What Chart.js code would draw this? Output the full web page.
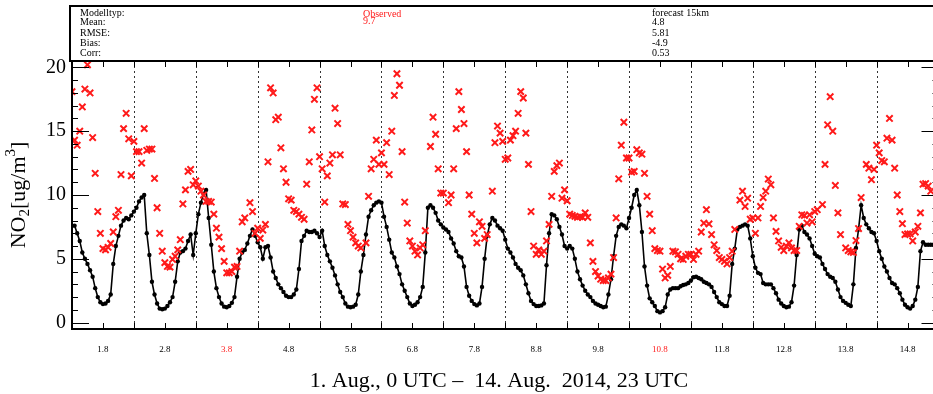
<!DOCTYPE html>
<html>
<head>
<meta charset="utf-8">
<script src="https://cdn.jsdelivr.net/npm/chart.js@4"></script>
<style>
    html, body { margin: 0; padding: 0; background: #fff; overflow: hidden; }
    #wrap { width: 933px; height: 394px; overflow: hidden; }
    canvas { display: block; }
</style>
</head>
<body>
<div id="wrap"><canvas id="myChart" width="945" height="394"></canvas></div>
<script>
// hourly values, 1. Aug 0 UTC .. 14. Aug 23 UTC (one row per day)
const model = [
    7.6, 7.6, 7.0, 6.4, 5.5, 5.0, 4.6, 4.1, 3.6, 2.7, 2.0, 1.6, 1.45, 1.5, 1.7, 2.2, 4.6, 6.0, 6.8, 7.6, 8.0, 8.2, 8.1, 8.4,
    8.7, 9.0, 9.5, 9.8, 10.0, 7.0, 5.3, 3.2, 2.2, 1.5, 1.1, 1.05, 1.1, 1.3, 1.6, 2.0, 3.2, 4.8, 5.5, 5.6, 5.8, 6.4, 6.9, 5.3,
    7.0, 8.5, 9.4, 10.1, 10.4, 8.2, 6.1, 4.0, 2.7, 2.0, 1.5, 1.25, 1.2, 1.3, 1.55, 2.0, 3.6, 5.0, 5.5, 5.7, 6.2, 6.8, 7.3, 6.8,
    6.3, 5.9, 5.0, 5.9, 6.0, 5.1, 4.0, 3.5, 3.0, 2.7, 2.4, 2.1, 2.0, 2.0, 2.2, 2.6, 4.2, 6.4, 6.8, 7.2, 7.1, 7.1, 7.2, 7.0,
    6.7, 7.2, 6.0, 5.3, 4.8, 4.3, 3.7, 3.0, 2.4, 2.0, 1.5, 1.25, 1.2, 1.25, 1.4, 2.2, 4.0, 5.3, 6.9, 8.3, 8.8, 9.2, 9.4, 9.5,
    9.4, 8.3, 7.5, 6.5, 5.5, 5.1, 4.4, 3.8, 3.0, 2.5, 2.0, 1.5, 1.3, 1.4, 1.6, 2.0, 2.8, 5.5, 9.0, 9.2, 9.0, 8.6, 8.0, 7.7,
    7.45, 7.3, 7.1, 6.6, 6.2, 5.6, 5.2, 5.1, 4.4, 2.8, 2.1, 1.7, 1.45, 1.35, 1.5, 2.8, 5.0, 6.8, 7.7, 8.2, 8.0, 7.6, 7.4, 7.2,
    6.5, 5.8, 5.5, 5.1, 4.6, 4.3, 4.1, 3.7, 3.0, 2.3, 1.7, 1.45, 1.3, 1.3, 1.35, 1.5, 4.5, 7.0, 8.5, 8.4, 8.1, 7.5, 6.9, 6.0,
    5.8, 6.0, 5.8, 5.0, 4.0, 3.4, 2.9, 2.5, 2.2, 2.0, 1.7, 1.5, 1.4, 1.3, 1.2, 1.25, 2.2, 3.4, 5.2, 6.8, 7.5, 7.7, 7.6, 7.4,
    8.2, 9.0, 10.0, 10.4, 9.2, 7.1, 4.4, 2.9, 1.9, 1.6, 1.3, 0.9, 0.8, 0.9, 1.2, 2.2, 2.6, 2.7, 2.7, 2.7, 2.85, 2.95, 3.0, 3.1,
    3.3, 3.55, 3.6, 3.5, 3.4, 3.2, 3.1, 3.0, 2.8, 2.4, 2.0, 1.6, 1.45, 1.3, 1.3, 2.1, 4.6, 5.8, 7.3, 7.5, 7.6, 7.7, 7.6, 6.6,
    5.2, 4.3, 3.9, 3.8, 3.1, 3.0, 3.0, 3.0, 2.7, 2.3, 1.8, 1.5, 1.3, 1.2, 1.25, 1.6, 2.9, 5.3, 7.3, 7.6, 7.1, 6.9, 6.6, 6.0,
    5.4, 5.2, 5.1, 4.6, 4.2, 3.8, 3.6, 3.5, 3.2, 2.6, 2.0, 1.7, 1.55, 1.4, 1.3, 3.0, 5.85, 7.3, 9.2, 8.2, 7.7, 7.4, 7.1, 7.0,
    6.4, 5.6, 5.0, 4.4, 4.0, 3.5, 3.1, 3.0, 2.7, 2.3, 1.8, 1.4, 1.2, 1.1, 1.3, 1.8, 2.8, 5.6, 6.3, 6.1, 6.1, 6.1, 6.1, 6.1
];

const observed = [
    18.1, 14.3, 13.9, 15.0, 16.9, 18.3, 20.2, 18.0, 14.5, 11.7, 8.7, 7.0, 5.8, 5.7, 5.9, 6.2, 7.1, 8.3, 8.8, 11.6, 15.2, 16.4, 14.4, 11.5,
    14.2, 13.4, 13.4, 12.5, 15.2, 13.5, 13.6, 13.6, 11.3, 9.0, 7.0, 5.6, 4.7, 4.4, 4.35, 4.95, 5.2, 5.7, 6.5, 9.3, 10.4, 11.85, 12.0, 10.8,
    11.1, 10.7, 10.3, 10.0, 9.5, 9.5, 9.45, 8.5, 7.4, 6.7, 5.8, 4.8, 3.9, 3.9, 4.0, 4.35, 4.4, 5.6, 7.9, 8.2, null, 9.4, 8.7, 7.0,
    7.4, 6.6, 7.25, 7.7, 12.6, 18.4, 18.0, 15.9, 16.1, 13.7, 12.05, 11.0, 9.7, 9.6, 8.8, 8.7, 8.5, 8.25, 8.1, 10.85, 12.6, 15.1, 17.5, 18.4,
    13.0, 12.05, 9.45, 11.5, 12.5, 13.15, 16.8, 15.6, 13.15, 9.3, 9.25, 7.7, 7.2, 6.7, 6.25, 6.0, 5.85, null, 6.25, 9.9, 12.05, 12.8, 14.3, 12.4,
    13.3, 12.4, 14.1, 11.6, 15.0, 17.8, 19.5, 18.6, 13.4, 9.45, 7.8, 6.4, 6.0, 5.6, 5.3, 5.85, 6.1, 7.2, null, 13.8, 16.1, 14.76, 12.05, 10.15,
    10.15, null, 9.4, 10.0, 12.05, 15.2, 18.1, 16.7, 15.6, 13.4, 10.0, 8.5, 7.0, 6.25, 7.9, 7.55, 6.6, 6.9, null, 10.3, 14.1, 15.4, 14.85, 14.2,
    12.8, 12.9, 14.3, 14.65, 15.0, 16.4, 18.1, 17.6, 14.85, 12.4, 8.7, 6.0, 5.35, 5.7, 5.35, 5.6, 6.4, 7.7, 9.9, 11.85, 12.3, 12.5, 9.75, 10.4,
    9.55, 8.5, 8.4, 8.33, 8.25, 8.3, 8.25, 8.6, 8.25, 6.25, 4.8, 4.0, 3.65, 3.4, 3.3, 3.3, 3.5, 3.8, 5.1, 8.2, 11.27, 13.9, 15.7, 12.9,
    12.9, 11.8, 11.85, 13.55, 13.3, 13.2, 11.7, 9.9, 8.5, 7.2, 5.8, 5.65, 5.6, 4.2, 3.5, 3.7, 4.4, 5.6, 5.55, 5.35, 5.0, 4.95, 5.2, 5.35,
    5.35, 4.95, 5.35, 5.6, 7.1, 7.8, 8.85, 7.73, 6.9, 6.1, 5.65, 5.1, 4.95, 4.8, 4.6, 5.1, 5.6, 7.3, null, 9.6, 10.3, 9.1, 9.75, 8.1,
    8.2, 7.0, 8.2, 9.1, 9.8, 10.3, 11.25, 10.8, 8.2, 7.15, 6.4, 5.9, 5.65, 6.0, 6.25, 5.85, 5.65, 5.65, 7.55, 8.45, 8.4, 7.8, 8.45, 7.9,
    8.7, 8.85, null, 9.25, 12.4, 15.5, 17.7, 15.0, 10.75, 8.6, 6.9, null, 5.85, 5.65, 5.55, 5.5, 6.43, 7.37, 9.8, null, 12.4, 12.1, 11.2, 12.0,
    13.9, 13.3, 12.7, 12.6, 14.45, 16.0, 14.3, 12.1, 10.0, 8.7, 7.75, 6.9, 6.95, 6.95, 6.4, 7.1, 7.55, 8.6, 10.85, 10.9, 10.7, 10.3, null, null
];

const dayLabels = ["1.8", "2.8", "3.8", "4.8", "5.8", "6.8", "7.8", "8.8", "9.8", "10.8", "11.8", "12.8", "13.8", "14.8"];
const sundays = ["3.8", "10.8"];
const yTicks = [0, 5, 10, 15, 20];

const statNames = ["Modelltyp:", "Mean:", "RMSE:", "Bias:", "Corr:"];
const obsStats = ["Observed", "9.7"];
const modelStats = ["forecast 15km", "4.8", "5.81", "-4.9", "0.53"];

const xTitle = "1. Aug., 0 UTC \u2013  14. Aug.  2014, 23 UTC";

const RED = "#ff1a1a";
const SERIF = "'Liberation Serif', 'DejaVu Serif', serif";

const framePlugin = {
    id: "frame",
    beforeDatasetsDraw(chart) {
        const { ctx, chartArea: a, scales } = chart;
        ctx.save();
        // dotted day boundaries
        ctx.strokeStyle = "#333";
        ctx.lineWidth = 1;
        ctx.setLineDash([2, 3]);
        for (let d = 1; d < dayLabels.length; d++) {
            const x = Math.round(scales.x.getPixelForValue(d * 24)) + 0.5;
            ctx.beginPath();
            ctx.moveTo(x, a.top);
            ctx.lineTo(x, a.bottom);
            ctx.stroke();
        }
        ctx.restore();
    },
    afterDraw(chart) {
        const { ctx, chartArea: a, scales } = chart;
        ctx.save();
        ctx.strokeStyle = "#000";
        ctx.lineWidth = 1;
        // y ticks, both sides
        for (let v = 0; v <= 20; v++) {
            const y = Math.round(scales.y.getPixelForValue(v)) + 0.5;
            const len = v % 5 === 0 ? 17 : 6;
            ctx.beginPath();
            ctx.moveTo(a.left, y);
            ctx.lineTo(a.left + len, y);
            ctx.moveTo(a.right, y);
            ctx.lineTo(a.right - len, y);
            ctx.stroke();
        }
        // x ticks every 12 h
        for (let h = 12; h < 336; h += 12) {
            const x = Math.round(scales.x.getPixelForValue(h)) + 0.5;
            ctx.beginPath();
            ctx.moveTo(x, a.bottom);
            ctx.lineTo(x, a.bottom - 6);
            ctx.moveTo(x, a.top);
            ctx.lineTo(x, a.top + 6);
            ctx.stroke();
        }
        // frame
        ctx.lineWidth = 2;
        ctx.strokeRect(a.left, a.top, a.right - a.left, a.bottom - a.top);

        // header box
        ctx.strokeRect(70, 6, chart.width, a.top - 6);
        ctx.font = "10px " + SERIF;
        ctx.textBaseline = "middle";
        ctx.textAlign = "left";
        const rows = [13, 22, 33, 43, 53];
        ctx.fillStyle = "#000";
        statNames.forEach((t, i) => ctx.fillText(t, 80, rows[i]));
        modelStats.forEach((t, i) => ctx.fillText(t, 652, rows[i]));
        ctx.fillStyle = RED;
        obsStats.forEach((t, i) => ctx.fillText(t, 363, i === 0 ? 14 : 21));

        // x title
        ctx.fillStyle = "#000";
        ctx.font = "22px " + SERIF;
        ctx.textAlign = "center";
        ctx.fillText(xTitle, 499, 381);

        // y title with sub/superscript
        ctx.translate(19, 195);
        ctx.rotate(-Math.PI / 2);
        const big = "22px " + SERIF, small = "15px " + SERIF;
        const parts = [["NO", big, 0], ["2", small, 6], ["[ug/m", big, 0], ["3", small, -8], ["]", big, 0]];
        let w = 0;
        parts.forEach(p => { ctx.font = p[1]; w += ctx.measureText(p[0]).width; });
        let x = -w / 2;
        ctx.textAlign = "left";
        parts.forEach(p => {
            ctx.font = p[1];
            ctx.fillText(p[0], x, p[2]);
            x += ctx.measureText(p[0]).width;
        });
        ctx.restore();
    }
};

const ctx = document.getElementById("myChart");

new Chart(ctx, {
    type: "line",
    data: {
        datasets: [
            {
                label: "Observed",
                data: observed.map((v, i) => ({ x: i, y: v })),
                showLine: false,
                pointStyle: "crossRot",
                pointRadius: 4.5,
                pointBorderWidth: 2,
                borderColor: RED,
                backgroundColor: RED,
            },
            {
                label: "forecast 15km",
                data: model.map((v, i) => ({ x: i, y: v })),
                borderColor: "#000",
                borderWidth: 1.6,
                pointRadius: 2.2,
                pointBorderWidth: 0,
                pointBackgroundColor: "#000",
                tension: 0,
            },
        ],
    },
    options: {
        responsive: false,
        animation: false,
        layout: { padding: { top: 61, right: 5, left: 0, bottom: 0 } },
        plugins: { legend: { display: false }, tooltip: { enabled: false } },
        scales: {
            x: {
                type: "linear",
                min: 0,
                max: 336,
                grid: { display: false, drawTicks: false },
                border: { display: false },
                afterBuildTicks: (s) => { s.ticks = dayLabels.map((_, i) => ({ value: 12 + 24 * i })); },
                afterFit: (s) => { s.height = 65; },
                ticks: {
                    autoSkip: false,
                    maxRotation: 0,
                    padding: 15,
                    font: { family: SERIF, size: 9 },
                    color: (c) => sundays.includes(dayLabels[c.index]) ? RED : "#000",
                    callback: (v, i) => dayLabels[i],
                },
            },
            y: {
                min: -0.5,
                max: 20.5,
                grid: { display: false, drawTicks: false },
                border: { display: false },
                afterBuildTicks: (s) => { s.ticks = yTicks.map((v) => ({ value: v })); },
                afterFit: (s) => { s.width = 72; },
                ticks: {
                    padding: 6,
                    font: { family: SERIF, size: 20 },
                    color: "#000",
                },
            },
        },
    },
    plugins: [framePlugin],
});
</script>
</body>
</html>
